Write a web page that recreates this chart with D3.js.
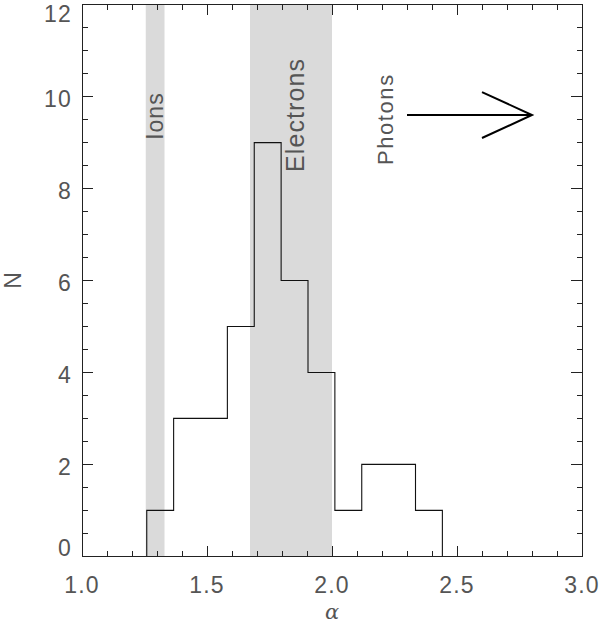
<!DOCTYPE html>
<html><head><meta charset="utf-8">
<script src="https://cdn.jsdelivr.net/npm/d3@7"></script>
<style>body{margin:0;background:#fff}svg{display:block}</style>
</head><body>
<svg id="c" width="600" height="625"></svg>
<script>
// Data
const binEdges = [1.259, 1.3665, 1.474, 1.5815, 1.689, 1.7965, 1.904, 2.0115, 2.119, 2.2265, 2.334, 2.4415];
const counts = [1, 3, 3, 5, 9, 6, 4, 1, 2, 2, 1];
const bands = [{name: "Ions", x0: 1.255, x1: 1.33}, {name: "Electrons", x0: 1.672, x1: 2.0}];
const xMajor = [1.0, 1.5, 2.0, 2.5, 3.0];
const xLabels = ["1.0", "1.5", "2.0", "2.5", "3.0"];
const yMajor = [0, 2, 4, 6, 8, 10, 12];
const yLabels = ["0", "2", "4", "6", "8", "10", "12"];
const arrow = {x0: 2.3, x1: 2.8, y: 9.6, headX: 2.6, headDy: 0.5};
const annotations = [
  {text: "Ions", x: 1.324, y: 9.06, size: 23, ls: 1},
  {text: "Electrons", x: 1.886, y: 8.36, size: 25, ls: 1.1},
  {text: "Photons", x: 2.244, y: 8.51, size: 22, ls: 1.6}
];

const svg = d3.select("#c");
const L = 82, R = 582, T = 4.7, B = 556.3;
const x = d3.scaleLinear().domain([1, 3]).range([L, R]);
const y = d3.scaleLinear().domain([0, 12]).range([B, T]);

// bands
svg.selectAll("rect.band").data(bands).join("rect")
  .attr("x", d => x(d.x0)).attr("width", d => x(d.x1) - x(d.x0))
  .attr("y", T).attr("height", B - T).attr("fill", "#dadada");

// histogram step line
const pts = [[binEdges[0], 0]];
counts.forEach((c, i) => { pts.push([binEdges[i], c]); pts.push([binEdges[i + 1], c]); });
pts.push([binEdges[binEdges.length - 1], 0]);
svg.append("path").attr("d", d3.line().x(d => x(d[0])).y(d => y(d[1]))(pts))
  .attr("fill", "none").attr("stroke", "#111").attr("stroke-width", 1.1);

// axes frame
const g = svg.append("g").attr("stroke", "#222").attr("stroke-width", 1).attr("shape-rendering", "crispEdges");
g.append("rect").attr("x", L).attr("y", T).attr("width", R - L).attr("height", B - T).attr("fill", "none");
const xMinor = d3.range(0, 21).map(i => 1 + i * 0.1);
xMinor.forEach(v => {
  const maj = Math.abs(v * 2 - Math.round(v * 2)) < 1e-6;
  const len = maj ? 10.5 : 5.5;
  g.append("line").attr("x1", x(v)).attr("x2", x(v)).attr("y1", B).attr("y2", B - len);
  g.append("line").attr("x1", x(v)).attr("x2", x(v)).attr("y1", T).attr("y2", T + len);
});
const yMinor = d3.range(0, 25).map(i => i * 0.5);
yMinor.forEach(v => {
  const maj = v % 2 === 0;
  const len = maj ? 11 : 5.5;
  g.append("line").attr("y1", y(v)).attr("y2", y(v)).attr("x1", L).attr("x2", L + len);
  g.append("line").attr("y1", y(v)).attr("y2", y(v)).attr("x1", R).attr("x2", R - len);
});

const font = "'Liberation Sans', Arial, sans-serif";
const tc = "#555";
// x tick labels
svg.selectAll("text.xl").data(xMajor).join("text")
  .attr("x", d => x(d)).attr("y", 593).attr("text-anchor", "middle")
  .attr("font-family", font).attr("font-size", 23).attr("letter-spacing", 1.2)
  .attr("fill", tc).text((d, i) => xLabels[i]);
// y tick labels
svg.selectAll("text.yl").data(yMajor).join("text")
  .attr("x", 72).attr("y", d => Math.min(548, Math.max(14, y(d) + 2)) + 8.3)
  .attr("text-anchor", "end")
  .attr("font-family", font).attr("font-size", 23).attr("letter-spacing", 1.2)
  .attr("fill", tc).text((d, i) => yLabels[i]);

// axis titles
svg.append("text").attr("x", (L + R) / 2).attr("y", 619).attr("text-anchor", "middle")
  .attr("font-family", "'DejaVu Serif', serif").attr("font-style", "italic").attr("font-size", 21)
  .attr("fill", tc).text("α");
svg.append("text").attr("transform", `translate(20.5,${(T + B) / 2}) rotate(-90)`).attr("text-anchor", "middle")
  .attr("font-family", font).attr("font-size", 23).attr("fill", tc).text("N");

// annotations
svg.selectAll("text.ann").data(annotations).join("text")
  .attr("transform", d => `translate(${x(d.x)},${y(d.y)}) rotate(-90)`)
  .attr("font-family", font).attr("font-size", d => d.size).attr("letter-spacing", d => d.ls)
  .attr("fill", tc).text(d => d.text);

// arrow
const ag = svg.append("g").attr("stroke", "#000").attr("stroke-width", 2).attr("fill", "none");
ag.append("line").attr("x1", x(arrow.x0)).attr("x2", x(arrow.x1)).attr("y1", y(arrow.y)).attr("y2", y(arrow.y));
ag.append("path").attr("d", d3.line()([
  [x(arrow.headX), y(arrow.y + arrow.headDy)], [x(arrow.x1), y(arrow.y)], [x(arrow.headX), y(arrow.y - arrow.headDy)]
]));
</script>
</body></html>
